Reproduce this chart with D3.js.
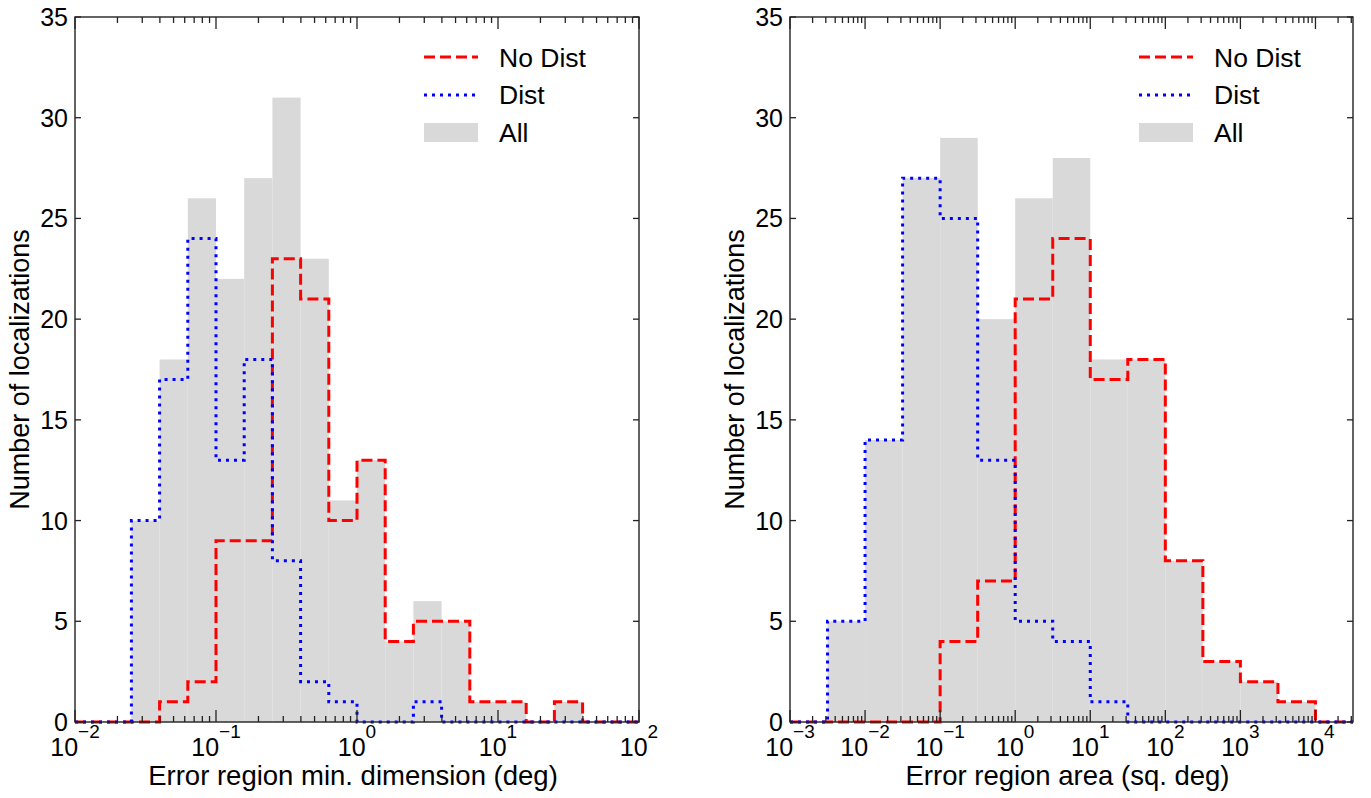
<!DOCTYPE html>
<html>
<head>
<meta charset="utf-8">
<script src="https://cdn.jsdelivr.net/npm/d3@7"></script>
<style>
  body { margin: 0; background: #fff; }
  text { font-family: "Liberation Sans", Arial, sans-serif; fill: #000; }
</style>
</head>
<body>
<div id="chart"></div>
<script>
// ---- data ----
// left panel: bin edges as log10 exponents (deg)
const edgesLeft = [-2.0, -1.8, -1.6, -1.4, -1.2, -1.0, -0.8, -0.6, -0.4, -0.2, 0.0,
                   0.2, 0.4, 0.6, 0.8, 1.0, 1.2, 1.4, 1.6, 1.8, 2.0];
const allLeft    = [0, 0, 10, 18, 26, 22, 27, 31, 23, 11, 13, 4, 6, 5, 1, 1, 0, 1, 0, 0];
const noDistLeft = [0, 0, 0, 1, 2, 9, 9, 23, 21, 10, 13, 4, 5, 5, 1, 1, 0, 1, 0, 0];
const distLeft   = [0, 0, 10, 17, 24, 13, 18, 8, 2, 1, 0, 0, 1, 0, 0, 0, 0, 0, 0, 0];
const decadesLeft = [-2, -1, 0, 1, 2];

// right panel: bin edges as log10 exponents (sq. deg)
const edgesRight = [-3.0, -2.5, -2.0, -1.5, -1.0, -0.5, 0.0, 0.5, 1.0, 1.5, 2.0, 2.5, 3.0, 3.5, 4.0, 4.5];
const allRight    = [0, 5, 14, 27, 29, 20, 26, 28, 18, 18, 8, 3, 2, 1, 0];
const noDistRight = [0, 0, 0, 0, 4, 7, 21, 24, 17, 18, 8, 3, 2, 1, 0];
const distRight   = [0, 5, 14, 27, 25, 13, 5, 4, 1, 0, 0, 0, 0, 0, 0];
const decadesRight = [-3, -2, -1, 0, 1, 2, 3, 4];

const yTicks = [0, 5, 10, 15, 20, 25, 30, 35];
const legendNames = ["No Dist", "Dist", "All"];

// ---- layout ----
const width = 1371, height = 798;
const svg = d3.select("#chart").append("svg").attr("width", width).attr("height", height);

const yTop = 17, yBottom = 722;

function drawPanel(cfg) {
  const g = svg.append("g");
  const x = d3.scaleLog().domain([Math.pow(10, cfg.xmin), Math.pow(10, cfg.xmax)]).range([cfg.left, cfg.right]);
  const y = d3.scaleLinear().domain([0, 35]).range([yBottom, yTop]);
  const edges = cfg.edges.map(e => Math.pow(10, e));

  // gray "All" bars
  g.append("g").selectAll("rect")
    .data(cfg.all)
    .enter()
    .append("rect")
    .attr("x", (d, i) => x(edges[i]))
    .attr("y", d => y(d))
    .attr("width", (d, i) => x(edges[i + 1]) - x(edges[i]))
    .attr("height", d => yBottom - y(d))
    .attr("fill", "#d9d9d9");

  // step outline like matplotlib histtype="step"
  const stepPts = vals => {
    const pts = [[edges[0], 0]];
    vals.forEach((v, i) => { pts.push([edges[i], v]); pts.push([edges[i + 1], v]); });
    pts.push([edges[edges.length - 1], 0]);
    return pts;
  };
  const line = d3.line().x(d => x(d[0])).y(d => y(d[1]));

  g.append("path")
    .datum(stepPts(cfg.noDist))
    .attr("d", line)
    .attr("fill", "none")
    .attr("stroke", "#ff0000")
    .attr("stroke-width", 3)
    .attr("stroke-dasharray", "11,5");

  g.append("path")
    .datum(stepPts(cfg.dist))
    .attr("d", line)
    .attr("fill", "none")
    .attr("stroke", "#0000ff")
    .attr("stroke-width", 3)
    .attr("stroke-dasharray", "3,5");

  // axes box
  g.append("rect")
    .attr("x", cfg.left).attr("y", yTop)
    .attr("width", cfg.right - cfg.left).attr("height", yBottom - yTop)
    .attr("fill", "none").attr("stroke", "#222").attr("stroke-width", 1.4);

  // x ticks (inward, bottom and top)
  const majors = cfg.decades.map(e => Math.pow(10, e));
  const minors = [];
  d3.range(Math.floor(cfg.xmin), Math.ceil(cfg.xmax)).forEach(e => {
    [2, 3, 4, 5, 6, 7, 8, 9].forEach(m => {
      const v = m * Math.pow(10, e);
      if (Math.log10(v) < cfg.xmax) minors.push(v);
    });
  });
  const tickG = g.append("g").attr("stroke", "#222").attr("stroke-width", 1.3);
  majors.forEach(v => {
    const px = x(v);
    tickG.append("line").attr("x1", px).attr("x2", px).attr("y1", yBottom).attr("y2", yBottom - 12);
    tickG.append("line").attr("x1", px).attr("x2", px).attr("y1", yTop).attr("y2", yTop + 12);
  });
  minors.forEach(v => {
    const px = x(v);
    tickG.append("line").attr("x1", px).attr("x2", px).attr("y1", yBottom).attr("y2", yBottom - 6);
    tickG.append("line").attr("x1", px).attr("x2", px).attr("y1", yTop).attr("y2", yTop + 6);
  });
  yTicks.forEach(t => {
    const py = y(t);
    tickG.append("line").attr("x1", cfg.left).attr("x2", cfg.left + 6).attr("y1", py).attr("y2", py);
    tickG.append("line").attr("x1", cfg.right).attr("x2", cfg.right - 6).attr("y1", py).attr("y2", py);
  });

  // x tick labels 10^n
  cfg.decades.forEach(e => {
    const t = g.append("text")
      .attr("x", x(Math.pow(10, e)))
      .attr("y", 756)
      .attr("text-anchor", "middle")
      .attr("font-size", "25px");
    t.append("tspan").text("10");
    t.append("tspan").attr("dy", -18).attr("font-size", "19px").text(String(e).replace("-", "\u2212"));
  });

  // y tick labels
  g.append("g").selectAll("text")
    .data(yTicks)
    .enter()
    .append("text")
    .attr("x", cfg.left - 7)
    .attr("y", d => y(d))
    .attr("dy", "0.36em")
    .attr("text-anchor", "end")
    .attr("font-size", "25px")
    .text(d => d);

  // axis labels
  g.append("text")
    .attr("x", (cfg.left + cfg.right) / 2 - 4)
    .attr("y", 785)
    .attr("text-anchor", "middle")
    .attr("font-size", "27.5px")
    .text(cfg.xlabel);

  g.append("text")
    .attr("transform", "translate(" + (cfg.left - 46) + "," + ((yTop + yBottom) / 2) + ") rotate(-90)")
    .attr("text-anchor", "middle")
    .attr("font-size", "27px")
    .text("Number of localizations");

  // legend
  const lx = cfg.left + 349;
  const leg = g.append("g");
  leg.append("line").attr("x1", lx).attr("x2", lx + 54).attr("y1", 57).attr("y2", 57)
    .attr("stroke", "#ff0000").attr("stroke-width", 3).attr("stroke-dasharray", "11,5");
  leg.append("line").attr("x1", lx).attr("x2", lx + 54).attr("y1", 95).attr("y2", 95)
    .attr("stroke", "#0000ff").attr("stroke-width", 3).attr("stroke-dasharray", "3,5");
  leg.append("rect").attr("x", lx).attr("y", 123).attr("width", 54).attr("height", 19)
    .attr("fill", "#d9d9d9");
  [67, 104, 142].forEach((yy, i) => {
    leg.append("text").attr("x", lx + 75).attr("y", yy).attr("font-size", "26.5px").text(legendNames[i]);
  });
}

drawPanel({
  left: 75, right: 639, xmin: -2, xmax: 2,
  edges: edgesLeft, all: allLeft, noDist: noDistLeft, dist: distLeft,
  decades: decadesLeft, xlabel: "Error region min. dimension (deg)"
});

drawPanel({
  left: 790, right: 1353, xmin: -3, xmax: 4.5,
  edges: edgesRight, all: allRight, noDist: noDistRight, dist: distRight,
  decades: decadesRight, xlabel: "Error region area (sq. deg)"
});
</script>
</body>
</html>
